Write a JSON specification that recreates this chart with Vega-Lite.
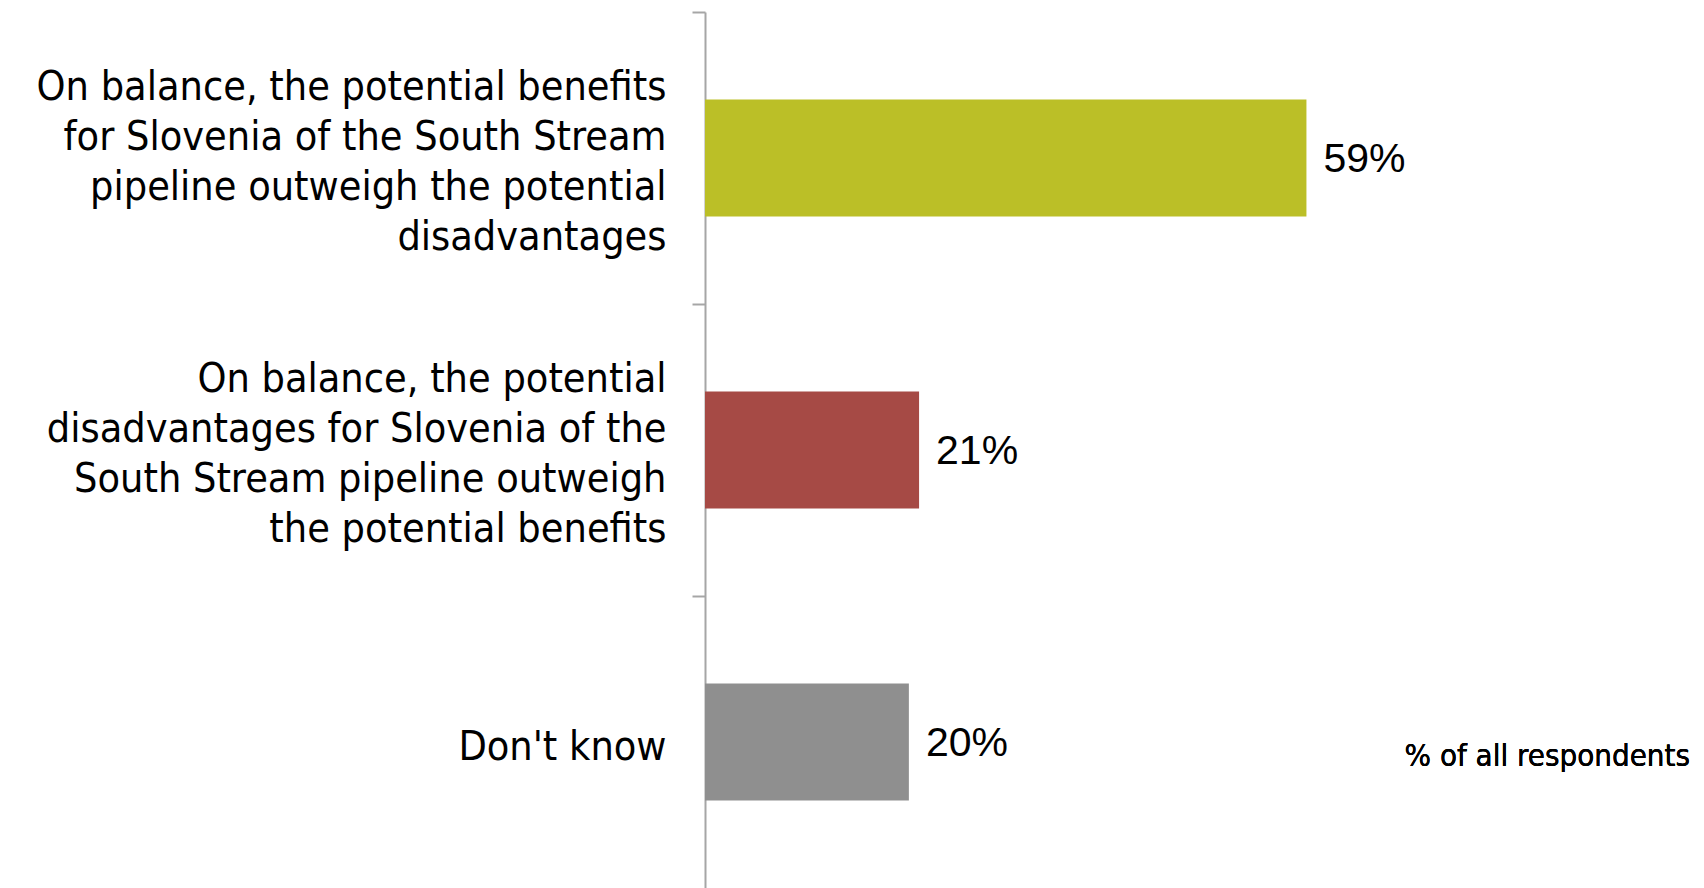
{
  "$schema": "https://vega.github.io/schema/vega-lite/v6.json",
  "autosize": {"type": "none"},
  "padding": {"left": 705, "top": 12, "right": 0, "bottom": 0},
  "width": 999,
  "height": 876,
  "background": "white",
  "data": {
    "values": [
      {"answer": "On balance, the potential benefits|for Slovenia of the South Stream|pipeline outweigh the potential|disadvantages", "share": 0.59, "label": "59%", "group": "benefits"},
      {"answer": "On balance, the potential|disadvantages for Slovenia of the|South Stream pipeline outweigh|the potential benefits", "share": 0.21, "label": "21%", "group": "disadvantages"},
      {"answer": "Don't know", "share": 0.20, "label": "20%", "group": "dontknow"}
    ]
  },
  "encoding": {
    "y": {
      "field": "answer",
      "type": "nominal",
      "sort": null,
      "scale": {"paddingInner": 0.6, "paddingOuter": 0.3},
      "axis": {
        "title": null,
        "labelExpr": "split(datum.label, '|')",
        "labelFont": "DejaVu Sans Condensed, sans-serif",
        "labelFontSize": 41,
        "labelLineHeight": 50,
        "labelColor": "#000000",
        "labelAlign": "right",
        "labelBaseline": "middle",
        "labelOffset": {"condition": {"test": "length(datum.value) < 20", "value": 6}, "value": -70},
        "labelPadding": 26,
        "labelLimit": 800,
        "tickSize": 13,
        "tickColor": "#A6A6A6",
        "tickWidth": 2,
        "domainColor": "#A6A6A6",
        "domainWidth": 2,
        "bandPosition": -0.75,
        "grid": false
      }
    },
    "x": {
      "field": "share",
      "type": "quantitative",
      "scale": {"domain": [0, 0.98], "nice": false},
      "axis": null
    }
  },
  "layer": [
    {
      "mark": {"type": "bar"},
      "encoding": {
        "color": {
          "field": "group",
          "type": "nominal",
          "scale": {"domain": ["benefits", "disadvantages", "dontknow"], "range": ["#BBBF27", "#A64A45", "#8F8F8F"]},
          "legend": null
        }
      }
    },
    {
      "mark": {"type": "text", "align": "left", "baseline": "middle", "dx": 17, "dy": 2, "font": "Liberation Sans, sans-serif", "fontSize": 41, "color": "#000000"},
      "encoding": {"text": {"field": "label"}}
    },
    {
      "mark": {"type": "text", "align": "right", "baseline": "middle", "dx": -14, "dy": 15, "font": "DejaVu Sans Condensed, sans-serif", "fontSize": 31, "color": "#000000"},
      "encoding": {
        "x": {"datum": 0.98},
        "y": {"datum": "Don't know"},
        "text": {"value": "% of all respondents"}
      }
    }
  ],
  "config": {"view": {"stroke": null}}
}
